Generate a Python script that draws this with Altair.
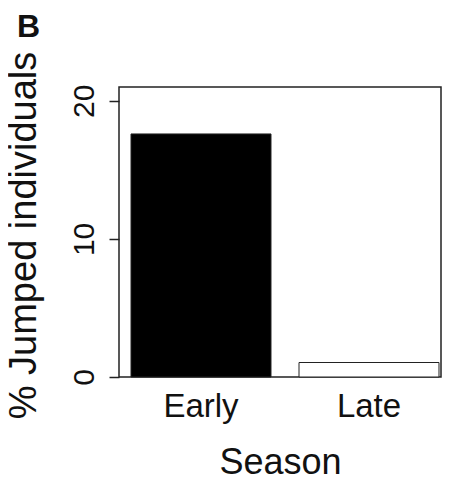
import altair as alt
import pandas as pd

seasons = ["Early", "Late"]
jumped_pct = [17.6, 1.05]
fills = ["#000000", "#ffffff"]
y_ticks = [0, 10, 20]

df = pd.DataFrame({"Season": seasons, "Pct": jumped_pct})
FONT = "Liberation Sans"

chart = alt.Chart(df).mark_bar(stroke="#222222", strokeWidth=1).encode(
    x=alt.X("Season:N", sort=seasons,
            scale=alt.Scale(paddingInner=0.1667, paddingOuter=0.0417, align=0.857),
            axis=alt.Axis(title="Season", ticks=False, tickSize=0, domain=False,
                          labelAngle=0, labelFontSize=33, labelFont=FONT, labelColor="#111111",
                          labelBaseline="alphabetic", labelPadding=39,
                          titleFontSize=36, titleFont=FONT, titleFontWeight="normal",
                          titleColor="#111111", titleBaseline="alphabetic",
                          titleX=161, titleY=96, titleAlign="center")),
    y=alt.Y("Pct:Q", scale=alt.Scale(domain=[0, 21], nice=False, zero=True),
            axis=alt.Axis(title="% Jumped individuals", values=y_ticks, grid=False,
                          domain=False, tickSize=10, tickColor="#222222", tickWidth=1.5,
                          labelAngle=270, labelAlign="center", labelBaseline="alphabetic",
                          labelPadding=16, labelFontSize=30, labelFont=FONT, labelColor="#111111",
                          titleFontSize=38, titleFont=FONT, titleFontWeight="normal",
                          titleColor="#111111", titleAngle=270, titleAlign="center",
                          titleBaseline="alphabetic", titleX=-84, titleY=148)),
    color=alt.Color("Season:N", scale=alt.Scale(domain=seasons, range=fills), legend=None),
).properties(
    width=322, height=290,
    title=alt.TitleParams("B", anchor="start", frame="group", fontSize=32, fontWeight="bold",
                          font=FONT, color="#111111", baseline="alphabetic", dx=-102, dy=34,
                          offset=16),
    autosize=alt.AutoSizeParams(type="none"),
    padding={"left": 111, "top": 79, "right": 3, "bottom": 100},
).configure_view(stroke="#222222", strokeWidth=1.5)

chart.save("out.html", embed_options={"renderer": "svg", "actions": False})
